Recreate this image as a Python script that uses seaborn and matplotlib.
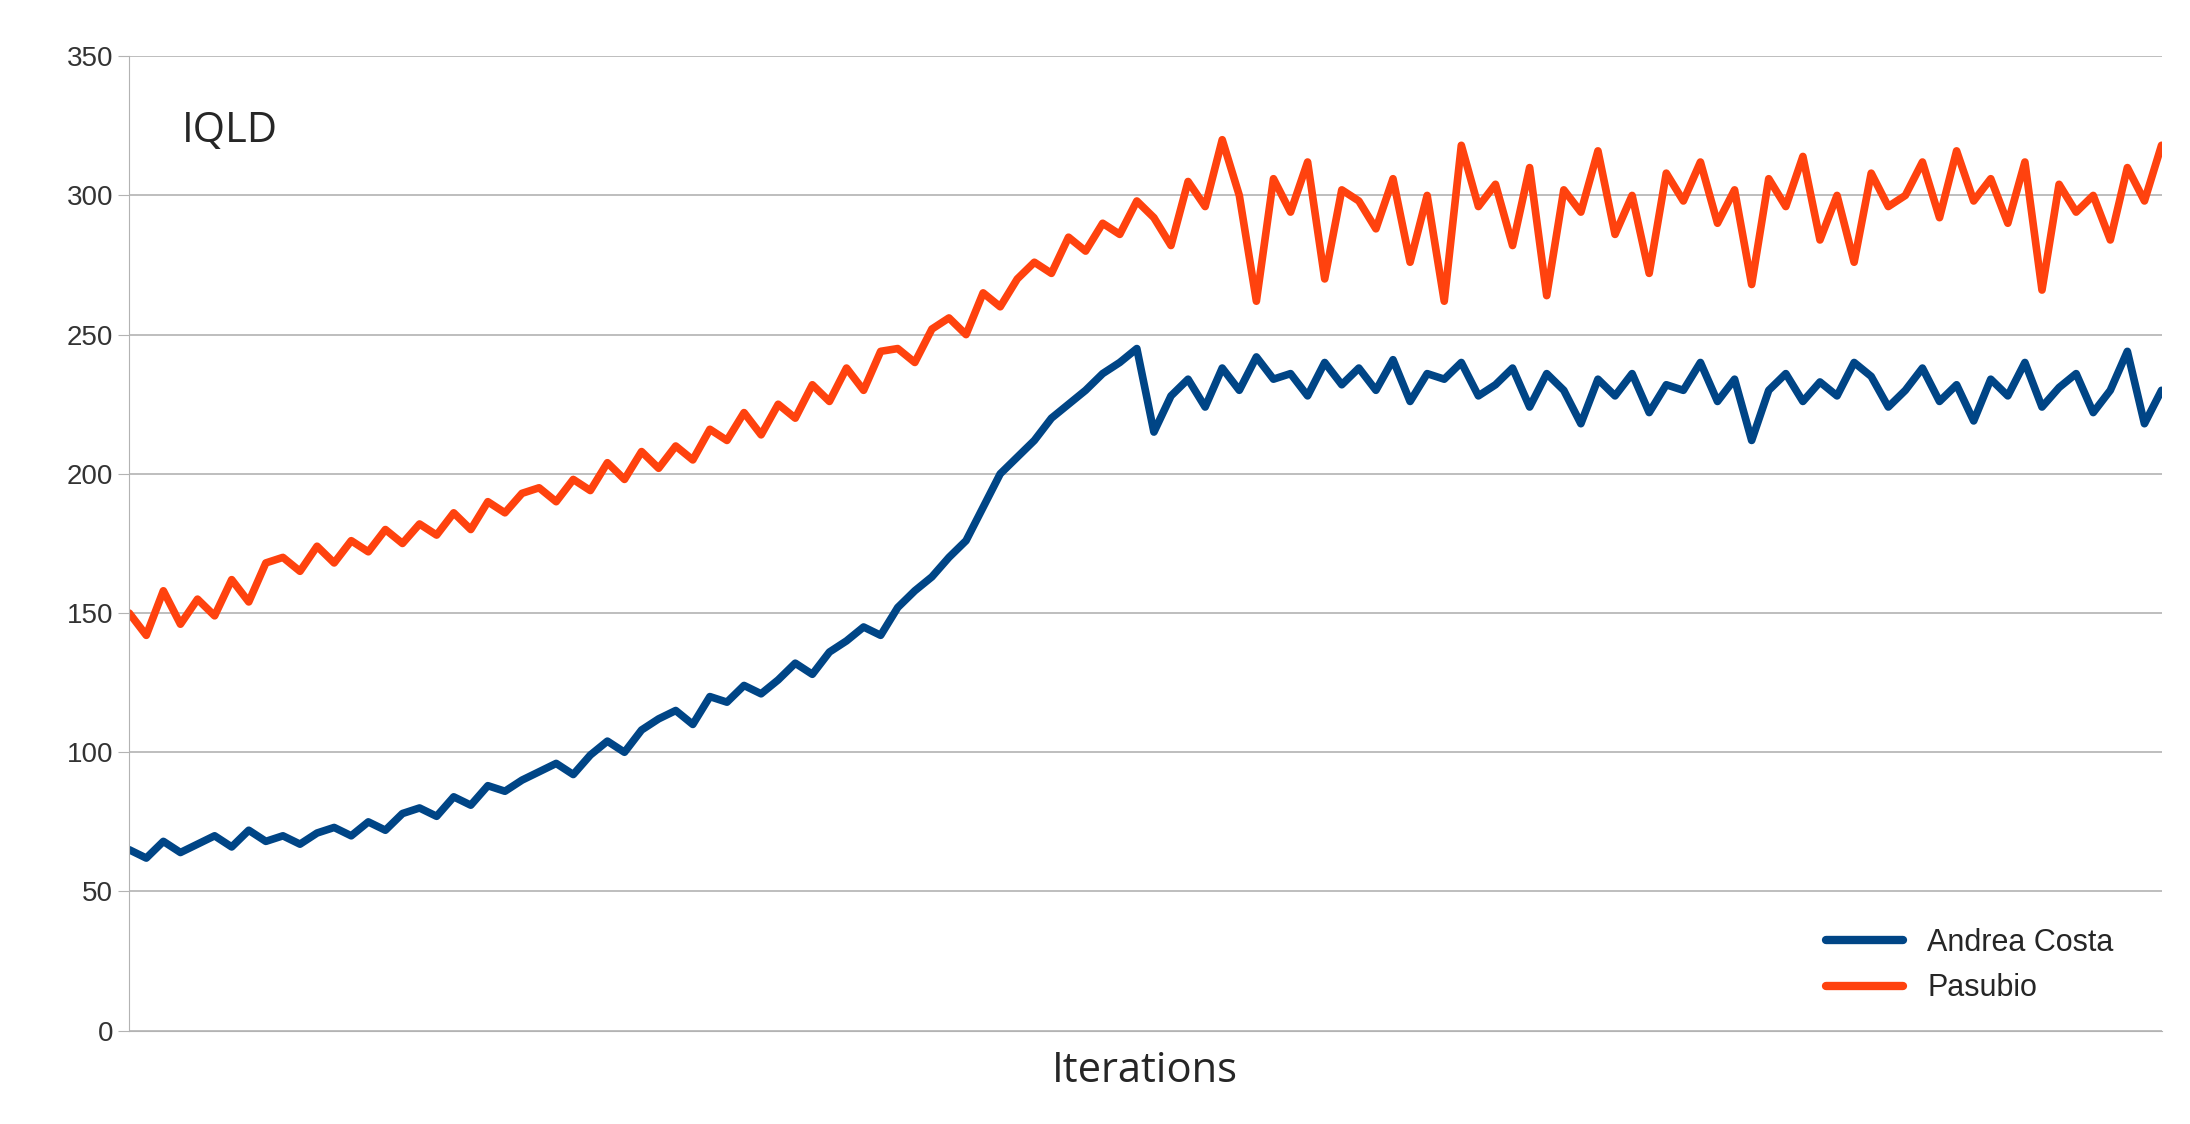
import matplotlib
matplotlib.use("Agg")
import matplotlib.pyplot as plt
import numpy as np
import pandas as pd
import seaborn as sns

andrea_costa = [
    65, 62, 68, 64, 67, 70, 66, 72, 68, 70, 67, 71,
    73, 70, 75, 72, 78, 80, 77, 84, 81, 88, 86, 90,
    93, 96, 92, 99, 104, 100, 108, 112, 115, 110, 120, 118,
    124, 121, 126, 132, 128, 136, 140, 145, 142, 152, 158, 163,
    170, 176, 188, 200, 206, 212, 220, 225, 230, 236, 240, 245,
    215, 228, 234, 224, 238, 230, 242, 234, 236, 228, 240, 232,
    238, 230, 241, 226, 236, 234, 240, 228, 232, 238, 224, 236,
    230, 218, 234, 228, 236, 222, 232, 230, 240, 226, 234, 212,
    230, 236, 226, 233, 228, 240, 235, 224, 230, 238, 226, 232,
    219, 234, 228, 240, 224, 231, 236, 222, 230, 244, 218, 230,
]
pasubio = [
    150, 142, 158, 146, 155, 149, 162, 154, 168, 170, 165, 174,
    168, 176, 172, 180, 175, 182, 178, 186, 180, 190, 186, 193,
    195, 190, 198, 194, 204, 198, 208, 202, 210, 205, 216, 212,
    222, 214, 225, 220, 232, 226, 238, 230, 244, 245, 240, 252,
    256, 250, 265, 260, 270, 276, 272, 285, 280, 290, 286, 298,
    292, 282, 305, 296, 320, 300, 262, 306, 294, 312, 270, 302,
    298, 288, 306, 276, 300, 262, 318, 296, 304, 282, 310, 264,
    302, 294, 316, 286, 300, 272, 308, 298, 312, 290, 302, 268,
    306, 296, 314, 284, 300, 276, 308, 296, 300, 312, 292, 316,
    298, 306, 290, 312, 266, 304, 294, 300, 284, 310, 298, 318,
]
iterations = np.arange(len(andrea_costa))

df = pd.DataFrame({"iter": iterations, "Andrea Costa": andrea_costa, "Pasubio": pasubio})
long = df.melt(id_vars="iter", var_name="series", value_name="IQLD")

sns.set_style("white")
plt.rcParams["font.family"] = ["Liberation Sans", "DejaVu Sans"]

fig = plt.figure(figsize=(21.9, 11.24), dpi=100)
ax = fig.add_axes([0.059, 0.083, 0.928, 0.867])
sns.lineplot(data=long, x="iter", y="IQLD", hue="series",
             palette={"Andrea Costa": "#004586", "Pasubio": "#ff420e"},
             linewidth=5.5, ax=ax)

ax.set_xlim(0, len(andrea_costa) - 1)
ax.set_ylim(0, 350)
ax.set_yticks(range(0, 351, 50))
ax.set_xticks([])
ax.yaxis.grid(True, color="#b3b3b3", linewidth=1.2)
ax.set_axisbelow(True)
for s in ["top", "right"]:
    ax.spines[s].set_visible(False)
for s in ["left", "bottom"]:
    ax.spines[s].set_color("#b3b3b3")
ax.tick_params(axis="y", labelsize=20, colors="#333333", length=8, color="#b3b3b3", left=True)
ax.set_ylabel("")
ax.set_xlabel("Iterations", fontsize=30, family=["Open Sans", "DejaVu Sans"], labelpad=14)
ax.text(0.026, 0.945, "IQLD", transform=ax.transAxes, fontsize=30,
        family=["Open Sans", "DejaVu Sans"], va="top")
leg = ax.legend(loc="lower right", frameon=False, fontsize=22, handlelength=2.5,
                bbox_to_anchor=(0.99, 0.0))
for line in leg.get_lines():
    line.set_linewidth(6)

fig.savefig("out.png", dpi=100)
